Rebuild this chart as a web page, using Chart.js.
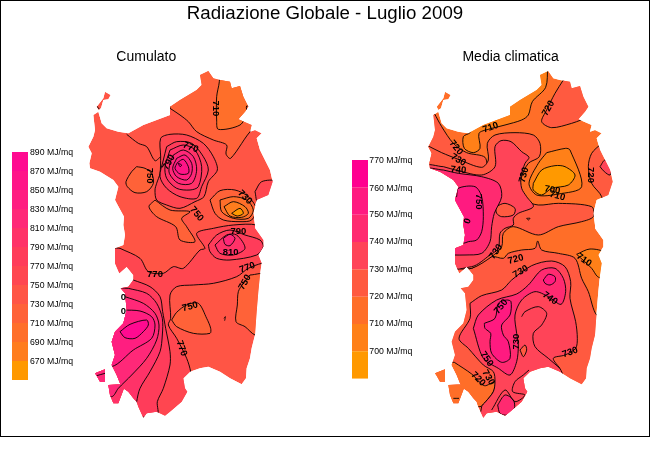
<!DOCTYPE html>
<html><head><meta charset="utf-8">
<style>html,body{margin:0;padding:0;background:#fff}#w{width:650px;height:450px}</style>
<script src="https://cdn.jsdelivr.net/npm/chart.js@4"></script>
</head><body><div id="w"><canvas id="c" width="650" height="450"></canvas></div>
<script>
const titleText='Radiazione Globale - Luglio 2009';
const subtitleLeft='Cumulato', subtitleRight='Media climatica';
// legend
const legendLeftLabels=['890 MJ/mq','870 MJ/mq','850 MJ/mq','830 MJ/mq','810 MJ/mq','790 MJ/mq','770 MJ/mq','750 MJ/mq','730 MJ/mq','710 MJ/mq','690 MJ/mq','670 MJ/mq'];
const legendLeftColors=['#FF0A90','#FF1488','#FF1E80','#FF2878','#FF3268','#FF3C5A','#FF4650','#FF5545','#FF6238','#FF6F2A','#FF7D1E','#FF9900'];
const legendRightLabels=['770 MJ/mq','760 MJ/mq','750 MJ/mq','740 MJ/mq','730 MJ/mq','720 MJ/mq','710 MJ/mq','700 MJ/mq'];
const legendRightColors=['#FF0090','#FF1A80','#FF2A70','#FF4458','#FF5A40','#FF6E28','#FF8018','#FF9900'];
// coast (map grid units, left map)
const coastMain=[600,225,625,213,640,235,660,240,690,245,695,265,720,258,730,290,745,320,735,335,715,358,755,375,750,395,765,390,785,400,770,415,780,450,790,470,810,510,818,545,805,585,770,600,760,640,765,675,765,685,790,720,790,740,775,765,785,790,780,825,775,875,770,935,765,1005,755,1045,750,1075,740,1105,738,1135,725,1153,690,1135,660,1115,625,1100,600,1105,570,1115,550,1135,555,1165,562,1175,545,1205,510,1235,495,1247,470,1235,440,1240,430,1253,415,1220,410,1205,400,1195,385,1175,370,1165,360,1150,350,1125,335,1095,345,1065,335,1025,345,995,370,970,380,930,375,880,362,865,385,860,400,840,400,825,380,800,358,820,345,790,345,745,370,735,375,705,370,675,372,650,350,610,345,600,355,560,340,540,300,515,270,505,268,490,275,460,265,440,280,410,285,390,280,345,295,335,305,370,320,385,355,395,385,400,430,375,470,360,510,345,510,320,540,300,590,270,605,255];
const coastAsinara=[290,320,310,295,315,275,332,285,325,298,310,300,303,325,295,330];
const coastSanPietro=[285,1120,315,1108,315,1145,300,1145,290,1127];
const coastSantAntioco=[325,1155,365,1153,372,1165,355,1210,340,1210,330,1185];
const rightCoastShift=1020, rightContourShift=975;
// left map contours
const L_north=[510,325,540,345,565,365,590,395,640,420,680,435,678,462,692,475,760,385,800,380,800,200,500,200];
const L_north710=[658,200,658,245,650,290,650,360,655,388,720,375,740,340,740,318,760,325,800,330,800,200];
const L_southWide=[360,745,420,775,445,815,490,820,520,800,550,805,600,750,615,745,590,700,640,685,700,675,770,675,800,700,800,790,785,790,745,805,710,830,640,850,580,855,530,860,510,885,512,955,505,975,530,1015,560,1075,572,1115,600,1300,250,1300,250,800,340,745];
const L_edgeSW=[380,403,415,430,440,440,465,482,482,470];
const L_west750=[410,500,435,505,455,520,460,550,440,575,405,578,382,560,378,545,395,515];
const L_hot770=[482,470,482,415,510,403,560,405,610,430,640,470,652,510,625,545,612,590,585,605,540,625,500,615,470,600,465,570,470,550,480,520];
const L_hot790=[500,440,530,425,575,430,610,470,625,510,605,560,590,595,540,590,500,565,480,530,490,480];
const L_hot810=[510,450,550,435,585,450,605,500,595,560,570,570,530,565,500,535,495,500];
const L_hot830=[520,465,550,450,580,470,590,510,575,550,535,550,508,520,510,490];
const L_hot850=[530,475,555,465,575,490,575,520,560,540,530,530,518,505];
const L_hot870=[532,488,550,478,565,500,565,520,540,522,525,505];
const L_hot890=[535,490,545,495,540,500];
const L_pocket=[465,600,447,620,470,650,527,680,540,720,585,725,560,680,545,655,570,635,510,630];
const L_se1=[630,600,660,572,705,570,745,590,768,625,755,660,720,665,670,660,645,640];
const L_se2=[660,600,700,590,740,600,760,630,745,655,700,655,665,635];
const L_se3=[672,620,700,605,735,620,745,640,725,652,690,648];
const L_se4=[695,640,720,625,730,640,712,648];
const L_eastLoop=[765,575,785,545,830,545,830,600,775,610];
const L_mid790=[625,735,650,705,690,690,735,705,780,720,790,740,770,765,690,780,650,775,630,755];
const L_mid810=[645,735,680,705,710,705,735,745,700,765,660,760];
const L_mid830=[670,715,690,703,705,715,690,737,675,733];
const L_seEast=[750,825,730,850,715,875,712,915,708,965,735,980,765,1005,800,1005,800,825];
const L_south750=[515,960,530,937,560,915,595,910,620,955,632,985,630,1000,580,1000,530,980];
const L_sw790=[400,840,450,860,480,890,488,935,497,985,510,1055,510,1095,490,1165,472,1205,470,1245,200,1245,200,840];
const L_sw810=[385,865,440,880,470,910,487,955,487,1005,480,1055,450,1115,420,1165,410,1205,405,1245,200,1245,200,865];
const L_sw830=[375,890,430,910,465,940,477,975,470,1020,440,1075,395,1125,355,1165,335,1190,200,1190,200,890];
const L_sw850=[370,930,420,933,455,950,465,975,455,1015,400,1050,335,1100,200,1100,200,930];
const L_sw870=[360,995,390,973,440,960,445,975,430,995,405,1015,375,1013];
const L_speck=[672,955,676,950,674,962];
const L_isle=[290,318,300,330];
const L_asinaraTick=[290,1127,315,1120];
// right map contours
const R_strip=[668,200,662,262,622,305,610,345,590,360,540,375,490,388,462,400,465,445,445,458,418,445,415,410,435,398,440,380,500,300,600,200];
const R_ne=[715,240,690,280,665,330,650,365,680,383,740,370,800,350,860,350,860,200,720,200];
const R_cWest=[328,340,350,380,385,430,425,458,480,472,480,510,310,510,250,438,250,340];
const R_south=[390,805,440,805,500,770,535,775,550,760,590,750,630,745,638,723,650,750,700,760,750,775,770,835,790,875,815,945,850,945,850,1325,200,1325,200,805];
const R_d=[310,438,350,458,400,478,470,502,490,480,487,430,510,405,570,398,625,405,645,430,643,470,610,490,590,530,585,560,600,600,640,615,700,610,800,620,805,650,770,665,700,680,640,705,565,680,535,700,530,740,500,770,440,805,390,805,200,805,200,438];
const R_e=[355,500,400,512,470,525,510,500,510,440,528,422,558,425,590,455,612,472,600,490,588,530,590,565,605,590,625,620,580,640,565,655,565,675,540,685,525,700,520,745,495,765,440,800,300,800,300,500];
const R_blob=[512,620,540,610,570,625,565,645,530,650,515,640];
const R_g=[355,510,400,520,470,530,520,550,530,590,508,640,500,680,495,725,470,760,420,765,385,765,300,765,300,510];
const R_h=[395,590,400,565,450,560,470,590,475,650,470,695,455,720,430,725,415,730,380,730,380,590];
const R_low1=[665,458,722,445,735,450,770,560,700,582,635,585,612,550,640,490];
const R_low2=[625,550,650,510,690,497,720,500,750,525,730,555,680,565,650,585,625,570];
const R_east=[830,430,800,460,790,500,800,550,830,590,835,650,880,660,880,430];
const R_east2=[825,500,840,480,860,500,855,525,838,515];
const R_sw=[388,1087,440,1122,478,1157,510,1145,505,1175,482,1205,465,1220,300,1220,300,1087];
const R_t=[435,910,470,887,530,870,560,840,620,797,680,783,720,800,737,845,735,895,752,965,757,1015,752,1045,720,1065,685,1075,708,1111,720,1155,640,1275,470,1275,470,1220,482,1205,505,1175,510,1145,505,1115,475,1095,430,1045,402,1015,435,955];
const R_u=[445,985,460,945,515,900,575,882,610,855,650,810,690,805,715,835,722,875,708,913,670,890,630,875,590,900,570,945,575,1000,580,1035,575,1085,555,1125,520,1105,475,1075];
const R_v=[478,970,510,955,520,910,545,900,558,905,555,945,530,975,535,1005,550,1025,555,1075,530,1087,500,1060,495,1025,497,1000,480,985];
const R_circle=[655,840,670,823,690,830,690,845,675,855,660,850];
const R_tip=[518,1215,540,1185,565,1200,568,1225,548,1245,525,1240];
const R_diamond=[585,1050,600,1035,605,1050,595,1070];
const R_se710=[755,763,795,747,840,760,840,835,818,830,800,805];
const R_oval=[605,655,615,655,610,660];
const R_pocketLine=[590,950,600,935,640,920,665,940,650,975,625,1000,630,1040,670,1075,705,1105];
const R_southLine=[612,1110,595,1125,570,1145,563,1175,600,1185,570,1205,540,1170,500,1230];
const R_isleLine=[385,1195,402,1195];
// contour labels
const leftLabelText=['710','770','790','750','730','750','790','810','770','770','750','750','770','0','0'];
const leftLabelX=[648,572,507,448,735,590,715,692,465,742,735,570,545,370,370];
const leftLabelY=[325,442,487,527,592,642,695,757,823,803,847,920,1045,893,933];
const leftLabelAngle=[90,20,-60,90,45,50,0,0,0,-20,-60,-15,70,0,0];
const rightLabelText=['710','720','720','730','740','730','720','700','710','750','0','730','720','730','710','740','750','730','730','750','720','730'];
const rightLabelX=[497,670,393,400,400,597,797,682,697,462,428,513,572,587,777,675,528,573,735,485,460,490];
const rightLabelY=[383,325,443,480,510,525,525,570,588,605,663,755,778,815,780,895,920,1025,1057,1077,1137,1133];
const rightLabelAngle=[-20,-60,50,30,5,-75,90,10,15,90,-70,-55,-15,-30,35,35,-50,-90,-20,55,45,60];
// legend positions
const legendLeftBox=[36,84,456,57], legendRightBox=[1056,1104,480,82];
const legendLeftTextX=90, legendRightTextX=1108;
const legendRightTextY=[482,565,645,726,810,891,972,1056];
const frame=[1.5,1.5,1948.5,1309.5];

const pts=(a,dx=0)=>{const o=[];for(let i=0;i<a.length;i+=2)o.push({x:a[i]+dx,y:a[i+1]});return o;};
const closed=(a,dx=0)=>{const p=pts(a,dx);p.push({...p[0]});return p;};
const ds=[];
const poly=(a,col,dx=0,t=.3)=>ds.push({data:closed(a,dx),backgroundColor:col,borderColor:'#000',borderWidth:.9,fill:'shape',tension:t,showLine:true,pointRadius:0});
const base=(a,col,dx)=>ds.push({data:closed(a,dx),backgroundColor:col,borderColor:'rgba(0,0,0,0)',borderWidth:0,fill:'shape',tension:0,showLine:true,pointRadius:0});
const line=(a,dx=0)=>ds.push({data:pts(a,dx),borderColor:'#000',borderWidth:.9,fill:false,tension:.3,showLine:true,pointRadius:0});
const coasts=[coastMain,coastAsinara,coastSanPietro,coastSantAntioco];
const C=Object.fromEntries(['890','870','850','830','810','790','770','750','730','710','690','670'].map((k,i)=>[k,legendLeftColors[i]]));
coasts.forEach(a=>base(a,C['750'],0));
coasts.forEach(a=>base(a,legendRightColors[5],rightCoastShift));
// left
poly(L_north,C['730']);poly(L_north710,C['710']);
poly(L_southWide,C['770']);
poly(L_west750,C['730']);
poly(L_hot770,C['770']);poly(L_hot790,C['790']);poly(L_hot810,C['810']);poly(L_hot830,C['830']);poly(L_hot850,C['850']);poly(L_hot870,C['870']);poly(L_hot890,C['890']);
line(L_edgeSW);
poly(L_pocket,C['730']);
poly(L_eastLoop,C['770']);
poly(L_se1,C['730']);poly(L_se2,C['710']);poly(L_se3,C['690']);poly(L_se4,C['670']);
poly(L_mid790,C['790']);poly(L_mid810,C['810']);poly(L_mid830,C['830']);
poly(L_seEast,C['730']);poly(L_south750,C['730']);
poly(L_sw790,C['790']);poly(L_sw810,C['810']);poly(L_sw830,C['830']);poly(L_sw850,C['850']);poly(L_sw870,C['890']);
line(L_speck);line(L_isle);line(L_asinaraTick);
// right
const RC=legendRightColors, D=rightContourShift;
poly(R_strip,RC[6],D);poly(R_ne,RC[4],D);poly(R_cWest,RC[4],D);poly(R_south,RC[4],D);poly(R_d,RC[4],D);
poly(R_e,RC[3],D);poly(R_blob,RC[4],D);poly(R_g,RC[2],D);poly(R_h,RC[1],D);
poly(R_low1,RC[6],D);poly(R_low2,RC[7],D);poly(R_east,RC[4],D);poly(R_east2,RC[3],D);
poly(R_sw,RC[5],D);poly(R_t,RC[3],D);poly(R_u,RC[2],D);poly(R_v,RC[1],D);poly(R_circle,RC[1],D);poly(R_tip,RC[2],D);
poly(R_diamond,RC[4],D);poly(R_se710,RC[6],D);poly(R_oval,RC[4],D);
line(R_pocketLine,D);line(R_southLine,D);line(R_isleLine,D);
// legends
const legendDs=(box,cols)=>cols.forEach((col,i)=>{const t=box[2]+i*box[3],b=t+box[3];
  ds.push({data:[{x:box[0],y:t},{x:box[1],y:t},{x:box[1],y:b},{x:box[0],y:b},{x:box[0],y:t}],backgroundColor:col,borderWidth:0,borderColor:col,fill:'shape',tension:0,showLine:true,pointRadius:0});});
legendDs(legendLeftBox,legendLeftColors);legendDs(legendRightBox,legendRightColors);
ds.forEach((d,i)=>d.order=ds.length-i);

const pathOf=(ctx,x,y,a,dx)=>{pts(a,dx).forEach((p,i)=>{const X=x.getPixelForValue(p.x),Y=y.getPixelForValue(p.y);i?ctx.lineTo(X,Y):ctx.moveTo(X,Y);});ctx.closePath();};
const mapPlugin={id:'mapPlugin',
 beforeDatasetsDraw(ch){const {ctx,scales:{x,y}}=ch;ctx.save();ctx.beginPath();
  coasts.forEach(a=>{pathOf(ctx,x,y,a,0);pathOf(ctx,x,y,a,rightCoastShift);});
  [[legendLeftBox,legendLeftColors.length],[legendRightBox,legendRightColors.length]].forEach(([b,n])=>{
    pathOf(ctx,x,y,[b[0],b[2],b[1],b[2],b[1],b[2]+n*b[3],b[0],b[2]+n*b[3]],0);});
  ctx.clip();},
 afterDatasetsDraw(ch){const {ctx,scales:{x,y}}=ch;ctx.restore();ctx.save();
  ctx.fillStyle='#000';ctx.textBaseline='middle';ctx.textAlign='center';
  const X=v=>x.getPixelForValue(v),Y=v=>y.getPixelForValue(v);
  ctx.font='18.7px "Liberation Sans"';ctx.fillText(titleText,X(975),Y(42));
  ctx.font='14px "Liberation Sans"';ctx.fillText(subtitleLeft,X(439),Y(172));ctx.fillText(subtitleRight,X(1532),Y(172));
  ctx.textAlign='left';ctx.font='8.7px "Liberation Sans"';
  legendLeftLabels.forEach((t,i)=>ctx.fillText(t,X(legendLeftTextX),Y(legendLeftBox[2]+i*legendLeftBox[3]+1)));
  legendRightLabels.forEach((t,i)=>ctx.fillText(t,X(legendRightTextX),Y(legendRightTextY[i])));
  ctx.textAlign='center';ctx.font='bold 9.5px "Liberation Sans"';
  const lab=(T,LX,LY,LA,dx)=>T.forEach((t,i)=>{ctx.save();ctx.translate(X(LX[i]+dx),Y(LY[i]));ctx.rotate(LA[i]*Math.PI/180);ctx.fillText(t,0,0);ctx.restore();});
  lab(leftLabelText,leftLabelX,leftLabelY,leftLabelAngle,0);
  lab(rightLabelText,rightLabelX,rightLabelY,rightLabelAngle,rightContourShift);
  ctx.strokeStyle='#000';ctx.lineWidth=1;ctx.strokeRect(X(frame[0]),Y(frame[1]),X(frame[2])-X(frame[0]),Y(frame[3])-Y(frame[1]));
  ctx.restore();}
};
new Chart(document.getElementById('c'),{type:'scatter',data:{datasets:ds},plugins:[mapPlugin],options:{
 responsive:false,animation:false,devicePixelRatio:1,events:[],layout:{padding:0},
 plugins:{legend:{display:false},tooltip:{enabled:false},title:{display:false}},
 scales:{x:{type:'linear',min:0,max:1950,display:false},y:{type:'linear',min:0,max:1350,reverse:true,display:false}}}});
</script></body></html>
